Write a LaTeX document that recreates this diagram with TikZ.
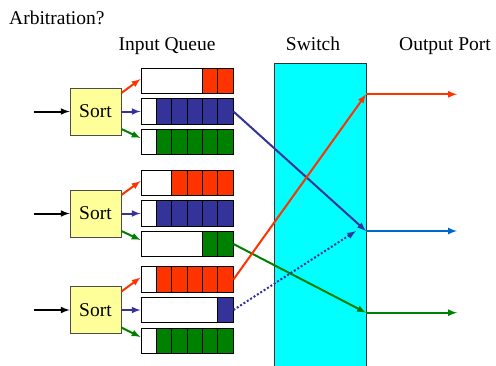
\documentclass[tikz,border=0pt]{standalone}
\usepackage{fontspec}
\setmainfont{Liberation Serif}
\usetikzlibrary{calc,arrows,positioning}
\definecolor{qred}{HTML}{FF3300}
\definecolor{qblue}{HTML}{333399}
\definecolor{qgreen}{HTML}{008000}
\definecolor{oblue}{HTML}{0066CC}
\definecolor{sortyellow}{HTML}{FFFF99}
\definecolor{swcyan}{HTML}{00FFFF}
\tikzset{
  sortbox/.style={draw=black!70,fill=sortyellow,line width=0.8pt,minimum width=51pt,minimum height=47pt,inner sep=0pt},
  queue/.style={draw=black,fill=white,line width=0.9pt,minimum width=92pt,minimum height=25.5pt,inner sep=0pt},
  switchbox/.style={draw=black!80,fill=swcyan,line width=0.8pt,minimum width=92pt,minimum height=310pt,inner sep=0pt},
  flow/.style={line width=2pt,-latex},
  label/.style={anchor=base,font=\fontsize{19.5}{22}\selectfont}
}
\begin{document}
\begin{tikzpicture}[x=1pt,y=-1pt]
  \useasboundingbox (0,0) rectangle (496,365);
  % titles
  \node[label,anchor=base west,inner sep=0pt] (title) at (9,24) {Arbitration?};
  \node[label] (lin) at (167,50.7) {Input Queue};
  \node[label] (lsw) at (313,50.7) {Switch};
  \node[label] (lout) at (445,50.7) {Output Port};
  % switch
  \node[switchbox] (sw) at (320,218) {};
  % sort boxes and their inputs
  \foreach \s/\y in {1/111.5,2/213.5,3/310} {
    \node[sortbox,font=\fontsize{19.5}{22}\selectfont] (s\s) at (95.5,\y) {Sort};
    \coordinate (in\s) at (34,\y);
    \draw[flow,black] (in\s) -- (s\s.west);
  }
  % queues with their cells
  \foreach \row/\y/\n/\col in {1/81/2/qred,2/111.5/5/qblue,3/142/5/qgreen,
                              4/183/4/qred,5/213.5/5/qblue,6/244/2/qgreen,
                              7/279.5/5/qred,8/310/1/qblue,9/341/5/qgreen} {
    \node[queue] (q\row) at (187,\y) {};
    \foreach \k in {1,...,\n}
      \draw[fill=\col,line width=0.9pt] (233-\k*15.3,\y-12.75) rectangle (233-\k*15.3+15.3,\y+12.75);
  }
  % sort -> queues
  \foreach \s/\a/\b/\c in {1/1/2/3,2/4/5/6,3/7/8/9} {
    \draw[flow,qred] ([yshift=18.5pt]s\s.east) -- ([yshift=2pt]q\a.west);
    \draw[flow,qblue] (s\s.east) -- (q\b.west);
    \draw[flow,qgreen] ([yshift=-17.5pt]s\s.east) -- ([yshift=4pt]q\c.west);
  }
  % output ports
  \coordinate (p1) at (366,94.3);
  \coordinate (p2) at (366,231);
  \coordinate (p3) at (366,312.7);
  \coordinate (o1) at (457,94.3);
  \coordinate (o2) at (457,231);
  \coordinate (o3) at (457,312.7);
  \coordinate (p2d) at (356,231);
  % through the switch
  \draw[flow,qblue] (q2.east) -- (p2);
  \draw[flow,qgreen] (q6.east) -- (p3);
  \draw[flow,qred] (q7.east) -- (p1);
  \draw[flow,qblue,dotted] (q8.east) -- (p2d);
  \draw[flow,qred] (p1) -- (o1);
  \draw[flow,oblue] (p2) -- (o2);
  \draw[flow,qgreen] (p3) -- (o3);
\end{tikzpicture}
\end{document}
